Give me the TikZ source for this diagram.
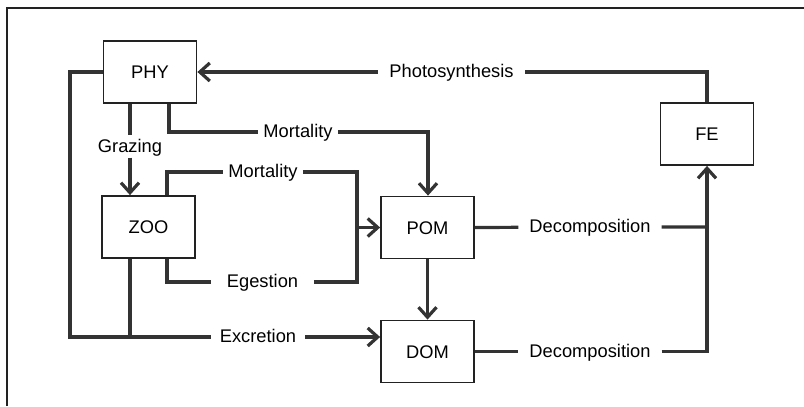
\documentclass[tikz,border=0pt]{standalone}
\usepackage{fontspec}
\setmainfont{Liberation Sans}
\usetikzlibrary{arrows.meta}
\definecolor{conn}{HTML}{333333}
\definecolor{boxc}{HTML}{222222}
\tikzset{
  box/.style={draw=boxc, line width=1.8bp, minimum width=93bp, minimum height=62bp, inner sep=0pt,
    font=\fontsize{18.3bp}{22bp}\selectfont, text height=13bp, text depth=0bp},
  lbl/.style={inner ysep=3.5bp, font=\fontsize{18.3bp}{22bp}\selectfont, text height=13bp, text depth=2bp},
  conline/.style={draw=conn, line width=3.2bp},
  arr/.style={conline, -{Straight Barb[length=10bp,width=18bp]}}
}
\begin{document}
\begin{tikzpicture}[x=1bp,y=-1bp]
\useasboundingbox (0,0) rectangle (804,406);
% frame
\draw[line width=1.2bp, draw=boxc] (7,406) -- (7,8) -- (804,8);
% boxes
\node[box] (PHY) at (150,72) {PHY};
\node[box] (ZOO) at (148.5,227) {ZOO};
\node[box] (POM) at (427.5,227.5) {POM};
\node[box] (DOM) at (427.5,351.5) {DOM};
\node[box] (FE) at (707,134) {FE};
% labels
\node[lbl, inner xsep=11.5bp] (photo) at (451.5,72) {Photosynthesis};
\node[lbl, inner xsep=5bp] (mort1) at (298,132) {Mortality};
\node[lbl, inner xsep=5bp] (mort2) at (263,172) {Mortality};
\node[lbl, inner xsep=15.5bp] (eges) at (262.5,282) {Egestion};
\node[lbl, inner xsep=9bp] (excr) at (258,337) {Excretion};
\node[lbl, inner xsep=11bp] (dec1) at (590,227) {Decomposition};
\node[lbl, inner xsep=11bp] (dec2) at (590,351.5) {Decomposition};
\node[lbl, inner xsep=2bp] (graz) at (130,146.5) {Grazing};
% corner coordinates
\coordinate (c1) at (707,72);
\coordinate (c2) at (169,132);
\coordinate (c3) at (428,132);
\coordinate (c4) at (167,172);
\coordinate (c5) at (357,172);
\coordinate (c6) at (357,227.5);
\coordinate (c7) at (167,282);
\coordinate (c8) at (357,282);
\coordinate (c9) at (70,72);
\coordinate (c10) at (70,337);
\coordinate (c11) at (130,337);
\coordinate (c12) at (707,227);
\coordinate (c13) at (707,351.5);
% connectors
\draw[arr] (FE.north) -- (c1) -- (photo) -- (PHY.east);
\draw[arr] (PHY.south -| c2) -- (c2) -- (mort1) -- (c3) -- (POM.north -| c3);
\draw[arr] (PHY.south -| graz) -- (graz) -- (ZOO.north -| graz);
\draw[conline] (ZOO.north -| c4) -- (c4) -- (mort2) -- (c5) -- (c6);
\draw[conline] (ZOO.south -| c7) -- (c7) -- (eges) -- (c8) -- (c6);
\draw[arr] (c6) -- (POM.west);
\draw[conline] (PHY.west) -- (c9) -- (c10) -- (c11);
\draw[conline] (ZOO.south -| c11) -- (c11);
\draw[arr] (c11) -- (excr) -- (DOM.west |- c11);
\draw[arr] (POM.south) -- (DOM.north);
\draw[conline] (POM.east) -- (dec1) -- (c12);
\draw[arr] (DOM.east) -- (dec2) -- (c13) -- (FE.south);
\end{tikzpicture}
\end{document}
